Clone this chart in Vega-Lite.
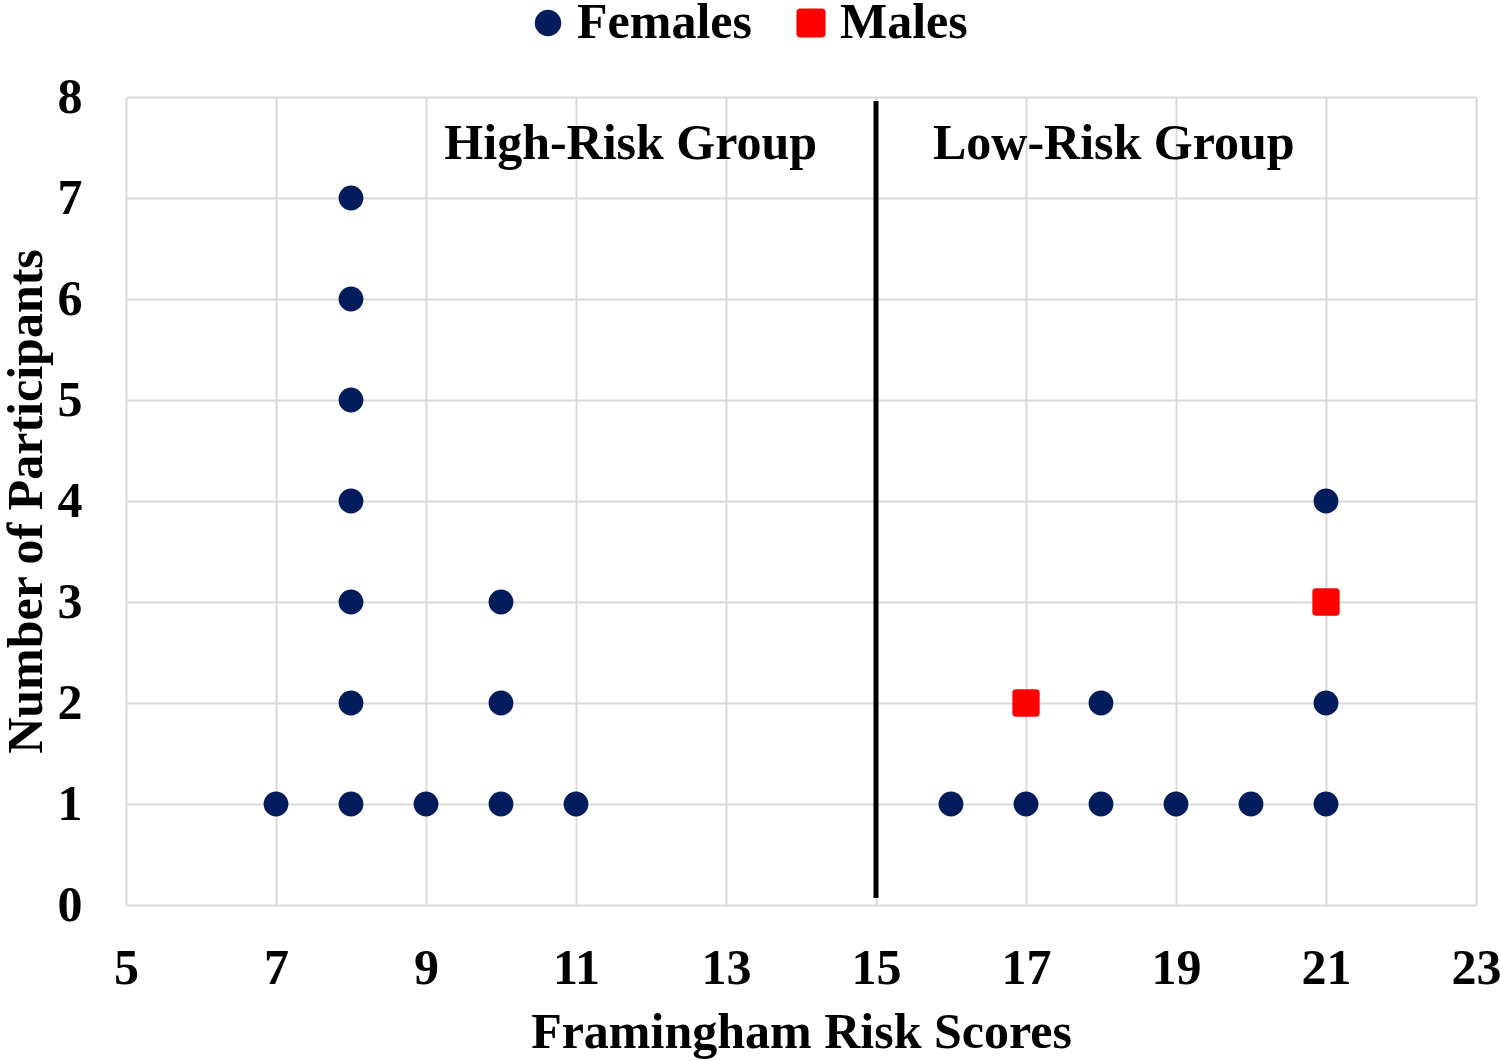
{
  "$schema": "https://vega.github.io/schema/vega-lite/v6.json",
  "width": 1350,
  "height": 808,
  "autosize": {"type": "none"},
  "padding": {"left": 126, "top": 97, "right": 24, "bottom": 156},
  "background": "white",
  "config": {
    "font": "Liberation Serif",
    "view": {"stroke": null},
    "axis": {
      "labelFont": "Liberation Serif",
      "titleFont": "Liberation Serif",
      "labelFontSize": 50,
      "titleFontSize": 50,
      "labelFontWeight": "bold",
      "titleFontWeight": "bold",
      "labelColor": "black",
      "titleColor": "black",
      "gridColor": "#d9d9d9",
      "gridWidth": 2,
      "domain": false,
      "ticks": false,
      "labelFlush": false,
      "labelOverlap": false,
      "format": "d"
    }
  },
  "datasets": {
    "points": [
      {"score": 7, "count": 1, "sex": "Females"},
      {"score": 8, "count": 1, "sex": "Females"},
      {"score": 8, "count": 2, "sex": "Females"},
      {"score": 8, "count": 3, "sex": "Females"},
      {"score": 8, "count": 4, "sex": "Females"},
      {"score": 8, "count": 5, "sex": "Females"},
      {"score": 8, "count": 6, "sex": "Females"},
      {"score": 8, "count": 7, "sex": "Females"},
      {"score": 9, "count": 1, "sex": "Females"},
      {"score": 10, "count": 1, "sex": "Females"},
      {"score": 10, "count": 2, "sex": "Females"},
      {"score": 10, "count": 3, "sex": "Females"},
      {"score": 11, "count": 1, "sex": "Females"},
      {"score": 16, "count": 1, "sex": "Females"},
      {"score": 17, "count": 1, "sex": "Females"},
      {"score": 17, "count": 2, "sex": "Males"},
      {"score": 18, "count": 1, "sex": "Females"},
      {"score": 18, "count": 2, "sex": "Females"},
      {"score": 19, "count": 1, "sex": "Females"},
      {"score": 20, "count": 1, "sex": "Females"},
      {"score": 21, "count": 1, "sex": "Females"},
      {"score": 21, "count": 2, "sex": "Females"},
      {"score": 21, "count": 3, "sex": "Males"},
      {"score": 21, "count": 4, "sex": "Females"}
    ],
    "divider": [{"score": 15, "y0": 0.07, "y1": 7.96}],
    "labels": [
      {"score": 11.73, "count": 7.53, "label": "High-Risk Group"},
      {"score": 18.17, "count": 7.53, "label": "Low-Risk Group"}
    ]
  },
  "layer": [
    {
      "data": {"name": "points"},
      "mark": {"type": "point", "filled": true, "opacity": 1, "size": 616},
      "encoding": {
        "x": {
          "field": "score", "type": "quantitative",
          "scale": {"domain": [5, 23], "nice": false, "zero": false},
          "axis": {"values": [5, 7, 9, 11, 13, 15, 17, 19, 21, 23], "labelPadding": 38, "titlePadding": 14, "title": "Framingham Risk Scores"}
        },
        "y": {
          "field": "count", "type": "quantitative",
          "scale": {"domain": [0, 8], "nice": false},
          "axis": {"values": [0, 1, 2, 3, 4, 5, 6, 7, 8], "labelPadding": 44, "titlePadding": 6, "title": "Number of Participants"}
        },
        "color": {
          "field": "sex", "type": "nominal",
          "scale": {"domain": ["Females", "Males"], "range": ["#021c5c", "#ff0000"]},
          "legend": {
            "title": null,
            "orient": "none",
            "direction": "horizontal",
            "legendX": 397,
            "legendY": -99,
            "padding": 0,
            "labelFont": "Liberation Serif",
            "labelFontSize": 50,
            "labelFontWeight": "bold",
            "labelColor": "black",
            "labelOffset": 4,
            "labelLimit": 400,
            "symbolSize": 700,
            "columnPadding": 34,
            "symbolOpacity": 1
          }
        },
        "shape": {
          "field": "sex", "type": "nominal",
          "scale": {"domain": ["Females", "Males"], "range": ["circle", "M-1.1,-0.8Q-1.1,-1.1,-0.8,-1.1L0.8,-1.1Q1.1,-1.1,1.1,-0.8L1.1,0.8Q1.1,1.1,0.8,1.1L-0.8,1.1Q-1.1,1.1,-1.1,0.8Z"]},
          "legend": null
        }
      }
    },
    {
      "data": {"name": "divider"},
      "mark": {"type": "rule", "color": "black", "strokeWidth": 5},
      "encoding": {
        "x": {"field": "score", "type": "quantitative"},
        "y": {"field": "y0", "type": "quantitative"},
        "y2": {"field": "y1"}
      }
    },
    {
      "data": {"name": "labels"},
      "mark": {"type": "text", "font": "Liberation Serif", "fontSize": 50, "fontWeight": "bold", "color": "black", "align": "center", "baseline": "middle"},
      "encoding": {
        "x": {"field": "score", "type": "quantitative"},
        "y": {"field": "count", "type": "quantitative"},
        "text": {"field": "label"}
      }
    }
  ]
}
